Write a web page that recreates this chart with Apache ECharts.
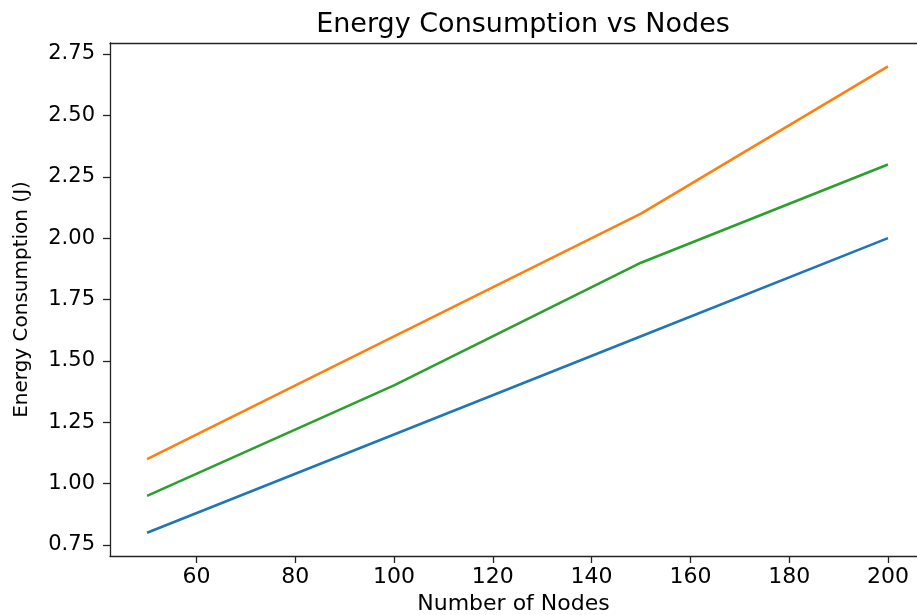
<!DOCTYPE html>
<html><head><meta charset="utf-8">
<script src="https://cdn.jsdelivr.net/npm/echarts@6/dist/echarts.min.js"></script>
<style>html,body{margin:0;padding:0;background:#fff}#c{width:917px;height:615px}</style>
</head><body><div id="c"></div>
<script>
const nodes = [50, 100, 150, 200];
const seriesA = [0.8, 1.2, 1.6, 2.0];   // blue
const seriesB = [1.1, 1.6, 2.1, 2.7];   // orange
const seriesC = [0.95, 1.4, 1.9, 2.3];  // green
const xTicks = [60, 80, 100, 120, 140, 160, 180, 200];
const yTicks = [0.75, 1.00, 1.25, 1.50, 1.75, 2.00, 2.25, 2.50, 2.75];
const colors = ['#1f77b4', '#ff7f0e', '#2ca02c'];
const font = 'DejaVu Sans';

const mk = (vals, c) => ({
  type: 'line', xAxisIndex: 0, data: nodes.map((x, i) => [x, vals[i]]), showSymbol: false,
  lineStyle: { color: c, width: 2.6 }, itemStyle: { color: c }, animation: false
});

const chart = echarts.init(document.getElementById('c'), null, { renderer: 'canvas' });
chart.setOption({
  animation: false,
  title: { text: 'Energy Consumption vs Nodes', left: 518, textAlign: 'center', top: 6,
    textStyle: { fontFamily: font, fontSize: 27, fontWeight: 'normal', color: '#000' } },
  grid: { left: 110, right: 0, top: 43, bottom: 59, containLabel: false, outerBoundsMode: 'none' },
  xAxis: [{ type: 'value', min: 42.5, max: 205.88,
    name: 'Number of Nodes', nameLocation: 'middle', nameGap: 36,
    nameTextStyle: { fontFamily: font, fontSize: 22, color: '#000' },
    axisLine: { show: true, onZero: false, lineStyle: { color: '#222', width: 1.3 } },
    axisTick: { show: true, length: 7, lineStyle: { color: '#222', width: 1.3 }, customValues: xTicks },
    axisLabel: { customValues: xTicks, fontFamily: font, fontSize: 22, color: '#000', margin: 10 },
    splitLine: { show: false } },
  { type: 'value', position: 'top', min: 42.5, max: 205.88,
    axisLine: { show: true, onZero: false, lineStyle: { color: '#222', width: 1.3 } },
    axisTick: { show: false }, axisLabel: { show: false }, splitLine: { show: false } }],
  yAxis: { type: 'value', min: 0.705, max: 2.795,
    name: 'Energy Consumption (J)', nameLocation: 'middle', nameGap: 78,
    nameTextStyle: { fontFamily: font, fontSize: 20, color: '#000' },
    axisLine: { show: true, lineStyle: { color: '#222', width: 1.3 } },
    axisTick: { show: true, length: 7, lineStyle: { color: '#222', width: 1.3 }, customValues: yTicks },
    axisLabel: { customValues: yTicks, formatter: v => v.toFixed(2), fontFamily: font, fontSize: 21, color: '#000', margin: 15 },
    splitLine: { show: false } },
  series: [mk(seriesA, colors[0]), mk(seriesB, colors[1]), mk(seriesC, colors[2])]
});
</script></body></html>
